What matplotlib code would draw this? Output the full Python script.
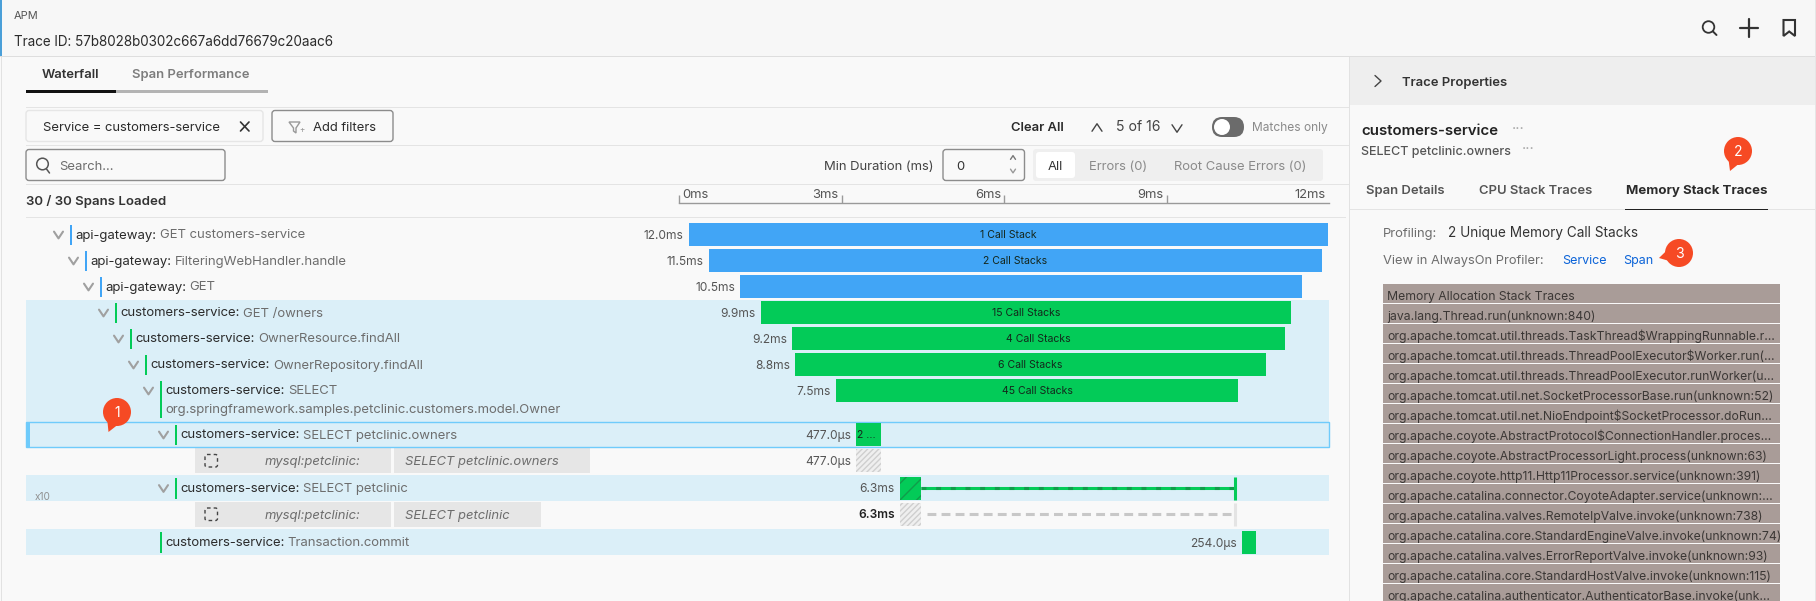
import matplotlib
matplotlib.use("Agg")
import matplotlib.pyplot as plt
from matplotlib.patches import Rectangle, Circle, Polygon, FancyBboxPatch
from matplotlib.transforms import ScaledTranslation

W, H = 1816, 601
FONT = "Inter"
plt.rcParams["font.family"] = [FONT, "DejaVu Sans"]

# spans (times in ms on the chart's own axis)
span_services = ["api-gateway", "api-gateway", "api-gateway", "customers-service", "customers-service",
                 "customers-service", "customers-service", "customers-service", None,
                 "customers-service", None, "customers-service"]
span_names = ["GET customers-service", "FilteringWebHandler.handle", "GET", "GET /owners",
              "OwnerResource.findAll", "OwnerRepository.findAll", "SELECT", "SELECT petclinic.owners",
              None, "SELECT petclinic", None, "Transaction.commit"]
span_starts = [0.18, 0.55, 1.13, 1.51, 2.09, 2.14, 2.90, 3.27, 3.27, 4.08, 4.08, 10.39]
span_ends = [11.98, 11.87, 11.50, 11.30, 11.19, 10.84, 10.32, 3.73, 3.73, 4.47, 4.47, 10.65]
span_durations = ["12.0ms", "11.5ms", "10.5ms", "9.9ms", "9.2ms", "8.8ms", "7.5ms", "477.0µs",
                  "477.0µs", "6.3ms", "6.3ms", "254.0µs"]
span_stacks = ["1 Call Stack", "2 Call Stacks", "", "15 Call Stacks", "4 Call Stacks", "6 Call Stacks",
               "45 Call Stacks", "2 ...", "", "", "", ""]
gap_ends = [10.24, 10.24]
tick_values = [0, 3, 6, 9, 12]
tick_labels = ["0ms", "3ms", "6ms", "9ms", "12ms"]

stack_lines = [
    "Memory Allocation Stack Traces",
    "java.lang.Thread.run(unknown:840)",
    "org.apache.tomcat.util.threads.TaskThread$WrappingRunnable.r…",
    "org.apache.tomcat.util.threads.ThreadPoolExecutor$Worker.run(…",
    "org.apache.tomcat.util.threads.ThreadPoolExecutor.runWorker(u…",
    "org.apache.tomcat.util.net.SocketProcessorBase.run(unknown:52)",
    "org.apache.tomcat.util.net.NioEndpoint$SocketProcessor.doRun…",
    "org.apache.coyote.AbstractProtocol$ConnectionHandler.proces…",
    "org.apache.coyote.AbstractProcessorLight.process(unknown:63)",
    "org.apache.coyote.http11.Http11Processor.service(unknown:391)",
    "org.apache.catalina.connector.CoyoteAdapter.service(unknown:…",
    "org.apache.catalina.valves.RemoteIpValve.invoke(unknown:738)",
    "org.apache.catalina.core.StandardEngineValve.invoke(unknown:74)",
    "org.apache.catalina.valves.ErrorReportValve.invoke(unknown:93)",
    "org.apache.catalina.core.StandardHostValve.invoke(unknown:115)",
    "org.apache.catalina.authenticator.AuthenticatorBase.invoke(unk…",
]

# layout of the rows, in pixels
row_heights = [26, 26, 26, 26, 26, 26, 44, 26, 27.5, 26, 28, 26]
row_indent = [0, 1, 2, 3, 4, 5, 6, 7, None, 7, None, 6]
row_top0 = 221.5

BLUE = "#41a5f6"
GREEN = "#03cb58"
DARK = "#2b2b2b"
GRAY = "#6d6d6d"
LINE = "#e4e4e4"
ROW_BG = "#dbeff8"

fig = plt.figure(figsize=(W / 100, H / 100), dpi=100, facecolor="#f9f9f9")
ui = fig.add_axes([0, 0, 1, 1])
ui.set_xlim(0, W)
ui.set_ylim(H, 0)
ui.axis("off")
fig.canvas.draw()
rend = fig.canvas.get_renderer()


def txt(x, y, s, px=13, color=DARK, ha="left", weight="normal", style="normal", ax=None, **kw):
    # y is the text baseline
    return (ax or ui).text(x, y, s, fontsize=px * 0.72, color=color, ha=ha, va="baseline",
                           fontweight=weight, fontstyle=style, **kw)


def rect(x0, y0, x1, y1, fc, ec="none", lw=0, z=1):
    r = Rectangle((x0, y0), x1 - x0, y1 - y0, fc=fc, ec=ec, lw=lw, zorder=z)
    ui.add_patch(r)
    return r


def box(x0, y0, x1, y1, fc="none", ec="#8c8c8c", lw=1, rad=3, z=2):
    ui.add_patch(FancyBboxPatch((x0 + rad, y0 + rad), x1 - x0 - 2 * rad, y1 - y0 - 2 * rad,
                                boxstyle=f"round,pad={rad},rounding_size={rad}", fc=fc, ec=ec, lw=lw, zorder=z))


def line(xs, ys, color="#555555", lw=1.2, z=3, **kw):
    ui.plot(xs, ys, color=color, lw=lw, zorder=z, solid_capstyle="round", **kw)


def chevron(x, y, size=4.5, up=False, color="#a0a0a0", lw=1.5):
    d = -size * 0.75 if up else size * 0.75
    line([x - size, x, x + size], [y - d, y + d, y - d], color=color, lw=lw)


def pin(cx, cy, tipx, tipy, label):
    ui.add_patch(Circle((cx, cy), 14, fc="#f64a24", ec="none", zorder=8))
    dx, dy = tipx - cx, tipy - cy
    n = (dx ** 2 + dy ** 2) ** 0.5
    ox, oy = -dy / n * 12, dx / n * 12
    ui.add_patch(Polygon([(cx + ox, cy + oy), (cx - ox, cy - oy), (tipx, tipy)], fc="#f64a24", ec="none", zorder=8))
    txt(cx, cy + 5, label, px=14, color="white", ha="center", zorder=9)


# page frame
rect(0, 0, W, 56.5, "#f7f7f7")
rect(0, 56, W, 57.2, "#dedede", z=2)
rect(0, 0, 1.5, 56, "#4a9fd8", z=3)
rect(1, 57, 2, H, "#e2e2e2", z=3)
rect(1349, 57, 1350.2, H, "#e2e2e2", z=3)
rect(1814.5, 0, 1816, H, "#e6e6e6", z=3)
rect(1350, 57, 1814.5, 105, "#eeeeee")
txt(14, 19, "APM", px=11, color="#555555")
txt(14, 46, "Trace ID: 57b8028b0302c667a6dd76679c20aac6", px=13.5)

# header icons
ui.add_patch(Circle((1708.5, 27), 5.8, fc="none", ec="#333333", lw=1.3, zorder=3))
line([1713, 1716.5], [31.5, 35], color="#333333", lw=1.4)
line([1740, 1758], [28, 28], color="#333333", lw=1.6)
line([1749, 1749], [19, 37], color="#333333", lw=1.6)
ui.add_patch(Polygon([(1783.5, 20), (1795, 20), (1795, 36), (1789.2, 31.5), (1783.5, 36)], closed=True,
                     fc="none", ec="#333333", lw=1.5, zorder=3))

# tabs
txt(42, 78, "Waterfall", px=13, color="#333333", weight="semibold")
txt(132, 78, "Span Performance", px=13, color="#7d7d7d", weight="semibold")
rect(26, 90, 116, 92.5, "#111111")
rect(116, 90, 268, 92.5, "#b3b3b3")

# filter rows
for y in [107.5, 145.5, 184.5, 217.5]:
    rect(26, y - 0.4, 1346 if y > 200 else 1349, y + 0.4, LINE)
box(26, 110.5, 263, 141.5, fc="#f9f9f9", ec="#e6e6e6")
txt(43, 131, "Service = customers-service", px=13)
line([240.5, 249], [122, 131], color="#333333", lw=1.2)
line([240.5, 249], [131, 122], color="#333333", lw=1.2)
box(272, 110.5, 393, 141.5, ec="#8c8c8c")
ui.add_patch(Polygon([(289, 122), (300, 122), (296, 128), (296, 133), (293.5, 131), (293.5, 128)], closed=True,
                     fc="none", ec="#999999", lw=1, zorder=3))
txt(302, 132, "+", px=8, color="#999999", ha="center")
txt(313, 131, "Add filters", px=13)
txt(1011, 131, "Clear All", px=13, weight="semibold")
chevron(1097, 127.5, size=5, up=True, color="#444444", lw=1)
txt(1116, 131, "5 of 16", px=14, color="#444444")
chevron(1177, 128.5, size=5, color="#444444", lw=1)
box(1212, 117, 1244, 137, fc="#6b6b6b", ec="none", rad=10)
ui.add_patch(Circle((1222, 127), 8, fc="white", ec="none", zorder=3))
txt(1252, 131, "Matches only", px=12, color="#8a8a8a")

box(26, 149.5, 225, 180.5, ec="#8c8c8c")
ui.add_patch(Circle((42.5, 164), 5.8, fc="none", ec="#555555", lw=1.1, zorder=3))
line([46.5, 49.5], [169, 173], color="#555555", lw=1.1)
txt(59, 170, "Search...", px=13, color="#6d6d6d")
txt(934, 170, "Min Duration (ms)", px=13, color="#444444", ha="right")
box(943, 149.5, 1024.5, 180.5, ec="#8c8c8c")
txt(956, 170, "0", px=13, color="#333333")
chevron(1013, 157.5, size=2.5, up=True, color="#777777", lw=1)
chevron(1013, 171, size=2.5, color="#999999", lw=1)
box(1033, 149, 1323, 181, fc="#efefef", ec="none")
box(1036, 152, 1075, 178, fc="white", ec="none")
txt(1055.5, 170, "All", px=13, color="#333333", ha="center")
txt(1089, 170, "Errors (0)", px=13, color="#8a8a8a")
txt(1174, 170, "Root Cause Errors (0)", px=13, color="#8a8a8a")
txt(26, 205, "30 / 30 Spans Loaded", px=13.2, color="#333333", weight="semibold")

# row backgrounds
row_tops = [row_top0]
for h in row_heights:
    row_tops.append(row_tops[-1] + h)
for i in [3, 4, 5, 6, 7, 9, 11]:
    rect(26, row_tops[i], 1329, row_tops[i] + row_heights[i] - (0 if i != 7 else 1), ROW_BG, z=0.5)
ui.add_patch(Rectangle((26, 421.5), 1303, 25, fc="none", ec="#6fcbfb", lw=1, zorder=2))
rect(26, 421.5, 30, 446.5, "#6fcbfb", z=2)

# waterfall axis, in ms
wf = fig.add_axes([679 / W, 1 - 555 / H, 650 / W, (555 - 203) / H], facecolor="none")
wf.set_xlim(0, 12)
wf.set_ylim(555, 203)
for s in ["left", "right", "bottom"]:
    wf.spines[s].set_visible(False)
wf.spines["top"].set_color("#9a9a9a")
wf.spines["top"].set_linewidth(1)
wf.set_yticks([])
wf.xaxis.tick_top()
wf.set_xticks(tick_values)
wf.set_xticklabels(tick_labels, fontsize=13 * 0.72, color="#555555")
wf.tick_params(axis="x", length=5.8, width=1, color="#9a9a9a", pad=-4.3)
fig.canvas.draw()
for i, lab in enumerate(wf.get_xticklabels()):
    shift = 3 if i == 0 else -3
    lab.set_ha("left" if i == 0 else "right")
    lab.set_transform(lab.get_transform() + ScaledTranslation(shift / 100, 0, fig.dpi_scale_trans))
wf.xaxis.get_major_ticks()[-1].tick2line.set_visible(False)

plt.rcParams["hatch.linewidth"] = 1.0
for i, svc in enumerate(span_services):
    top = row_tops[i] + 1.5
    mid = top + 11.5
    left, width = span_starts[i], span_ends[i] - span_starts[i]
    if svc is None:
        wf.barh(mid, width, left=left, height=23, color="#efefef", edgecolor="#cfcfcf", hatch="//////", lw=0)
    elif i == 9:
        wf.barh(mid, width, left=left, height=23, color=GREEN, edgecolor="#119c4b", hatch="//", lw=0)
    else:
        wf.barh(mid, width, left=left, height=23, color=BLUE if svc == "api-gateway" else GREEN, lw=0)
    if span_stacks[i] and i != 7:
        wf.text(left + width / 2, mid + 3.5, span_stacks[i], fontsize=10.5 * 0.72, color="#14261b", ha="center", va="baseline")
    elif span_stacks[i]:
        wf.text(left + 0.02, mid + 3.5, span_stacks[i], fontsize=10.5 * 0.72, color="#14261b", ha="left", va="baseline")
    wf.annotate(span_durations[i], xy=(left, mid + 4.5), xycoords="data", xytext=(-3.6, 0), textcoords="offset points",
                fontsize=12 * 0.72, color="#222222" if i == 10 else "#555555", ha="right", va="baseline",
                fontweight="semibold" if i == 10 else "normal")

# the two gap lines in the SELECT petclinic group
y9 = row_tops[9] + 13
y10 = row_tops[10] + 13
wf.plot([span_ends[9], gap_ends[0]], [y9, y9], color=GREEN, lw=2.2, solid_capstyle="butt")
wf.plot([span_ends[9], gap_ends[0]], [y9, y9], color="#119c4b", lw=2.2, dashes=(1.6, 3.2))
wf.plot([gap_ends[0] + 0.03] * 2, [row_tops[9] + 1.5, row_tops[9] + 24.5], color=GREEN, lw=2.2, solid_capstyle="butt")
wf.plot([span_ends[10] + 0.1, gap_ends[1]], [y10, y10], color="#c8c8c8", lw=2.2, dashes=(2.9, 1.7))
wf.plot([gap_ends[1] + 0.03] * 2, [row_tops[10] + 1.5, row_tops[10] + 24.5], color="#e4e4e4", lw=2.2, solid_capstyle="butt")

# span labels
rows_chevron = [True] * 8 + [False, True, False, False]
for i, svc in enumerate(span_services):
    if svc is None:
        continue
    ind = row_indent[i] * 15
    mark = BLUE if svc == "api-gateway" else GREEN
    top = row_tops[i]
    bot = top + (40 if i == 6 else 23)
    rect(70.3 + ind, top + 3, 71.8 + ind, bot + 0.5, mark, z=3)
    if rows_chevron[i]:
        chevron(58.5 + ind, top + 13.5)
    base = top + 17
    first = txt(75 + ind, base, svc + ":", px=13.1, color=DARK)
    x1 = first.get_window_extent(rend).x1
    txt(x1 + 3.5, base, span_names[i], px=13.1, color=GRAY)
    if i == 6:
        txt(75 + ind, base + 18, "org.springframework.samples.petclinic.customers.model.Owner", px=13.1, color=GRAY)

# db statement rows
for i, stmt, x1 in [(8, "SELECT petclinic.owners", 590), (10, "SELECT petclinic", 541)]:
    y0 = row_tops[i] + 0.5
    y1 = y0 + 25
    rect(195, y0, 391, y1, "#e6e6e6")
    rect(394, y0, x1, y1, "#e6e6e6")
    ui.add_patch(FancyBboxPatch((205, y0 + 6.5), 12.5, 12.5, boxstyle="round,pad=0,rounding_size=2", fc="none",
                                ec="#444444", lw=1, ls=(0, (2.6, 2.2)), zorder=3))
    txt(265, y0 + 17, "mysql:petclinic:", px=13, color="#6d6d6d", style="italic")
    txt(405, y0 + 17, stmt, px=13, color="#6d6d6d", style="italic")
txt(35, 500, "x10", px=10, color="#8f8f8f")

# side panel
chevron_x = 1378
line([chevron_x - 3, chevron_x + 3, chevron_x - 3], [75.5, 81, 86.5], color="#444444", lw=1)
txt(1402, 86, "Trace Properties", px=13, color="#333333", weight="semibold")
txt(1361, 135, "customers-service", px=15, color="#222222", weight="semibold")
txt(1518, 133, "···", px=15, color="#a8a8a8", ha="center")
txt(1361, 154.5, "SELECT petclinic.owners", px=12.5, color="#555555", weight="medium")
txt(1528, 153, "···", px=15, color="#a8a8a8", ha="center")
txt(1366, 194, "Span Details", px=13, color="#555555", weight="semibold")
txt(1479, 194, "CPU Stack Traces", px=13, color="#555555", weight="semibold")
txt(1626, 194, "Memory Stack Traces", px=13.2, color="#2b2b2b", weight="bold")
rect(1350, 209, 1815, 210, LINE)
rect(1625, 209, 1768, 210, "#222222", z=2)
txt(1383, 237, "Profiling:", px=13, color="#6d6d6d")
txt(1448, 237, "2 Unique Memory Call Stacks", px=13.6, color="#333333")
txt(1383, 264, "View in AlwaysOn Profiler:", px=12.9, color="#6d6d6d")
txt(1562, 264, "Service", px=12.5, color="#0b63d8")
txt(1623, 264, "Span", px=12.5, color="#0b63d8")

for k, s in enumerate(stack_lines):
    y = 284 + 20 * k
    rect(1383.3, y, 1779.7, y + 18.7, "#a99c98")
    t = txt(1387, y + 16, s, px=12.2, color="#3b3735")
    t.set_clip_on(True)

pin(117, 412, 108.5, 432, "1")
pin(1738, 151, 1730, 171, "2")
pin(1679, 253, 1659, 258, "3")

fig.savefig("out.png", dpi=100, facecolor=fig.get_facecolor())
